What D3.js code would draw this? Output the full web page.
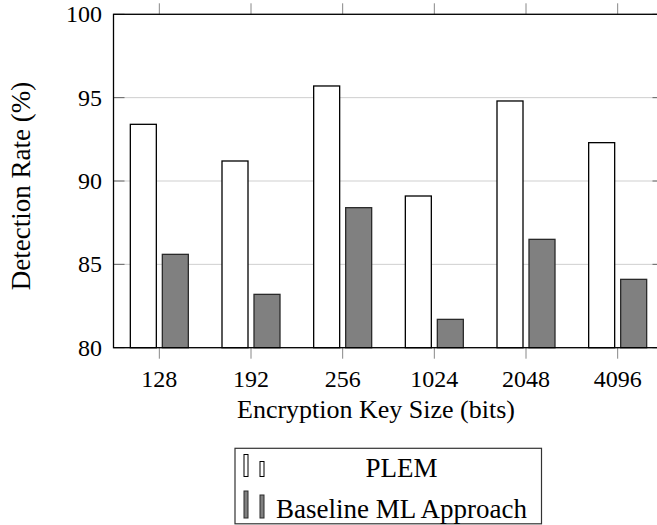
<!DOCTYPE html>
<html><head><meta charset="utf-8">
<script src="https://cdn.jsdelivr.net/npm/d3@7/dist/d3.min.js"></script>
<style>html,body{margin:0;padding:0;background:#fff;} svg{display:block;}</style>
</head><body>
<svg id="c" width="657" height="525"></svg>
<script>
const categories = ["128", "192", "256", "1024", "2048", "4096"];
const seriesNames = ["PLEM", "Baseline ML Approach"];
const plemValues = [93.4, 91.2, 95.7, 89.1, 94.8, 92.3];
const baselineValues = [85.6, 83.2, 88.4, 81.7, 86.5, 84.1];
const yTickValues = [80, 85, 90, 95, 100];
const xAxisTitle = "Encryption Key Size (bits)";
const yAxisTitle = "Detection Rate (%)";

(function () {
const FONT = "'Liberation Serif'";
const seriesFill = ["#ffffff", "#808080"];
const seriesStroke = ["#000000", "#2a2a2a"];
const svg = d3.select("#c");
const pL = 113.5, pR = 663.5, pT = 14.3, pB = 347.7;

const x = d3.scaleBand().domain(categories).range([pL, pR]).padding(0);
const step = x.step();
const x1 = d3.scaleBand().domain(seriesNames).range([step/2 - 29, step/2 + 29]).paddingInner(0.1875).paddingOuter(0);
const y = d3.scaleLinear().domain([80, 100]).range([pB, pT]);

function txt(g) { return g.append("text").style("font-family", FONT).attr("fill", "#000"); }

// grid
svg.append("g").selectAll("line").data(yTickValues).join("line")
  .attr("x1", pL).attr("x2", pR)
  .attr("y1", d => y(d)).attr("y2", d => y(d))
  .attr("stroke", "#cfcfcf").attr("stroke-width", 1);

// bars
const data = [plemValues, baselineValues];
seriesNames.forEach((s, si) => {
  svg.append("g").selectAll("rect").data(categories).join("rect")
    .attr("x", c => x(c) + x1(s))
    .attr("width", x1.bandwidth())
    .attr("y", (c, i) => y(data[si][i]))
    .attr("height", (c, i) => y(80) - y(data[si][i]))
    .attr("fill", seriesFill[si])
    .attr("stroke", seriesStroke[si]).attr("stroke-width", 1.3);
});

// x ticks (outside top & bottom)
const xt = svg.append("g");
categories.forEach(c => {
  const cx = x(c) + step/2;
  xt.append("line").attr("x1", cx).attr("x2", cx).attr("y1", pT - 11).attr("y2", pT).attr("stroke", "#888").attr("stroke-width", 1);
  xt.append("line").attr("x1", cx).attr("x2", cx).attr("y1", pB).attr("y2", pB + 11).attr("stroke", "#888").attr("stroke-width", 1);
  txt(xt).attr("x", cx).attr("y", 387.3).attr("text-anchor", "middle").style("font-size", "24px").text(c);
});

// y ticks (inside left & right)
const yt = svg.append("g");
yTickValues.forEach(v => {
  yt.append("line").attr("x1", pL).attr("x2", pL + 11).attr("y1", y(v)).attr("y2", y(v)).attr("stroke", "#666").attr("stroke-width", 1);
  yt.append("line").attr("x1", pR - 11).attr("x2", pR).attr("y1", y(v)).attr("y2", y(v)).attr("stroke", "#666").attr("stroke-width", 1);
  txt(yt).attr("x", 102).attr("y", y(v)).attr("dy", "0.33em").attr("text-anchor", "end").style("font-size", "24px").text(v);
});

// frame
svg.append("rect").attr("x", pL).attr("y", pT).attr("width", pR - pL).attr("height", pB - pT)
  .attr("fill", "none").attr("stroke", "#000").attr("stroke-width", 1.3);

// axis titles
txt(svg).attr("x", 376).attr("y", 418.3).attr("text-anchor", "middle").style("font-size", "26px").text(xAxisTitle);
txt(svg).attr("transform", "translate(30,186) rotate(-90)").attr("text-anchor", "middle").style("font-size", "27px").text(yAxisTitle);

// legend
const lg = svg.append("g");
lg.append("rect").attr("x", 235).attr("y", 448.3).attr("width", 306.5).attr("height", 75.5)
  .attr("fill", "#fff").attr("stroke", "#333").attr("stroke-width", 1.2);
const legendRows = [{base: 476.5, tall: 22, short: 15}, {base: 518, tall: 27, short: 23}];
seriesNames.forEach((s, i) => {
  const r = legendRows[i];
  lg.append("rect").attr("x", 244).attr("y", r.base - r.tall).attr("width", 4).attr("height", r.tall)
    .attr("fill", seriesFill[i]).attr("stroke", seriesStroke[i]).attr("stroke-width", 1);
  lg.append("rect").attr("x", 260).attr("y", r.base - r.short).attr("width", 4).attr("height", r.short)
    .attr("fill", seriesFill[i]).attr("stroke", seriesStroke[i]).attr("stroke-width", 1);
  txt(lg).attr("x", 401.5).attr("y", r.base).attr("text-anchor", "middle").style("font-size", "27px").text(s);
});
})();
</script>
</body></html>
